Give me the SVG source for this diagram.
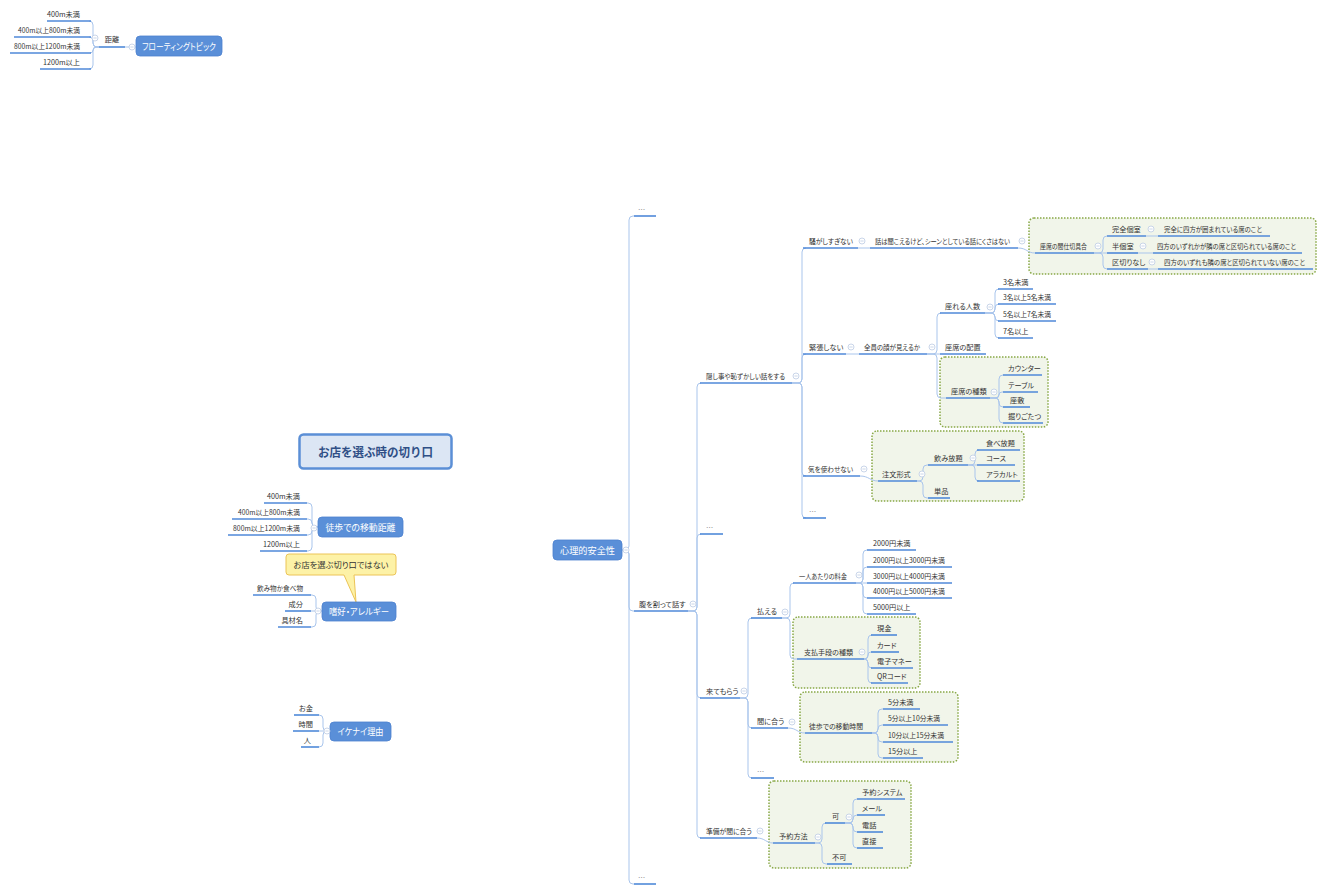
<svg xmlns="http://www.w3.org/2000/svg" width="1326" height="893" viewBox="0 0 1326 893">
<style>
.c{fill:none;stroke:#a9c5ec;stroke-width:1}
.u{stroke:#4f89d9;stroke-width:1.6}
.t{font-family:"Noto Sans CJK JP","Noto Sans",sans-serif;font-size:7.2px;fill:#333;font-feature-settings:"palt"}
.e{text-anchor:end}
.m{text-anchor:middle}
.d{fill:#888}
.b{fill:#5a8fd8;stroke:#4c82cf;stroke-width:0.8}
.bt{font-family:"Noto Sans CJK JP",sans-serif;font-size:9px;fill:#fff;text-anchor:middle;font-feature-settings:"palt"}
.g{fill:#f1f5ea;stroke:#88a846;stroke-width:1.5;stroke-dasharray:1.5 1.5}
</style>
<defs>
<g id="k"><circle r="3" fill="#fff" stroke="#bccbe3" stroke-width="0.8"/><line x1="-1.6" x2="1.6" stroke="#bccbe3" stroke-width="0.8"/></g>
</defs>
<rect width="1326" height="893" fill="#fff"/>

<g id="boundaries">
<rect class="g" x="1029" y="218" width="287" height="56" rx="5"/>
<rect class="g" x="940" y="357" width="108" height="70" rx="5"/>
<rect class="g" x="872" y="431" width="152" height="70" rx="5"/>
<rect class="g" x="793" y="617" width="127" height="71" rx="5"/>
<rect class="g" x="800" y="692" width="158" height="70" rx="5"/>
<rect class="g" x="769" y="781" width="142" height="87" rx="5"/>
</g>

<g id="connectors">
<path class="c" d="M136,47 L125,47"/>
<path class="c" d="M99,47 L97,47 Q93,47 93,43 L93,25 Q93,21 89,21"/>
<path class="c" d="M99,47 L97,47 Q93,47 93,43 L93,41 Q93,37 89,37"/>
<path class="c" d="M99,47 L96,47 Q93,47 93,50 Q93,53 90,53"/>
<path class="c" d="M99,47 L97,47 Q93,47 93,51 L93,65 Q93,69 89,69"/>

<path class="c" d="M318,527 L316,527 Q312,527 312,523 L312,507 Q312,503 308,503 L307,503"/>
<path class="c" d="M318,527 L316,527 Q312,527 312,523 Q312,519 308,519 L307,519"/>
<path class="c" d="M318,527 L316,527 Q312,527 312,531 Q312,535 308,535 L307,535"/>
<path class="c" d="M318,527 L316,527 Q312,527 312,531 L312,547 Q312,551 308,551 L307,551"/>

<path class="c" d="M322,611 L320,611 Q316,611 316,607 L316,599 Q316,595 312,595 L311,595"/>
<path class="c" d="M322,611 L311,611"/>
<path class="c" d="M322,611 L320,611 Q316,611 316,615 L316,623 Q316,627 312,627 L311,627"/>

<path class="c" d="M330,731 L327,731 Q323,731 323,727 L323,719 Q323,715 319,715"/>
<path class="c" d="M330,731 L319,731"/>
<path class="c" d="M330,731 L327,731 Q323,731 323,735 L323,743 Q323,747 319,747"/>

<path class="c" d="M622,550 L625,550 Q629,550 629,546 L629,220 Q629,216 633,216 L634,216"/>
<path class="c" d="M622,550 L625,550 Q629,550 629,554 L629,607 Q629,611 633,611 L634,611"/>
<path class="c" d="M622,550 L625,550 Q629,550 629,554 L629,880 Q629,884 633,884 L634,884"/>

<path class="c" d="M688,611 L693,611 Q697,611 697,607 L697,387 Q697,383 701,383"/>
<path class="c" d="M688,611 L693,611 Q697,611 697,607 L697,538 Q697,534 701,534"/>
<path class="c" d="M688,611 L693,611 Q697,611 697,615 L697,694 Q697,698 701,698"/>
<path class="c" d="M688,611 L693,611 Q697,611 697,615 L697,834 Q697,838 701,838"/>

<path class="c" d="M792,383 L798,383 Q802,383 802,379 L802,252 Q802,248 806,248"/>
<path class="c" d="M792,383 L798,383 Q802,383 802,379 L802,358 Q802,354 806,354"/>
<path class="c" d="M792,383 L798,383 Q802,383 802,387 L802,472 Q802,476 806,476"/>
<path class="c" d="M792,383 L798,383 Q802,383 802,387 L802,514 Q802,518 806,518"/>

<path class="c" d="M858,248 L870,248"/>
<path class="c" d="M1018,248 C1027,248 1027,253 1035,253"/>
<path class="c" d="M1094,253 L1099,253 Q1103,253 1103,249 L1103,240 Q1103,236 1107,236"/>
<path class="c" d="M1094,253 L1107,253"/>
<path class="c" d="M1094,253 L1099,253 Q1103,253 1103,257 L1103,265 Q1103,269 1107,269"/>
<path class="c" d="M1146,236 L1158,236"/>
<path class="c" d="M1138,253 L1153,253"/>
<path class="c" d="M1148,269 L1158,269"/>

<path class="c" d="M846,354 L859,354"/>
<path class="c" d="M927,354 L933,354 Q937,354 937,350 L937,317 Q937,313 941,313"/>
<path class="c" d="M927,354 L940,354"/>
<path class="c" d="M927,354 L933,354 Q937,354 937,358 L937,394 Q937,398 941,398 L946,398"/>
<path class="c" d="M985,313 L991,313 Q995,313 995,309 L995,293 Q995,289 999,289"/>
<path class="c" d="M985,313 L991,313 Q995,313 995,309 L995,308 Q995,304 999,304"/>
<path class="c" d="M985,313 L991,313 Q995,313 995,317 Q995,321 999,321"/>
<path class="c" d="M985,313 L991,313 Q995,313 995,317 L995,334 Q995,338 999,338"/>
<path class="c" d="M990,398 L995,398 Q999,398 999,394 L999,379 Q999,375 1003,375"/>
<path class="c" d="M990,398 L996,398 Q999,398 999,395 Q999,392 1002,392 L1003,392"/>
<path class="c" d="M990,398 L995,398 Q999,398 999,402 L999,403 Q999,407 1003,407"/>
<path class="c" d="M990,398 L995,398 Q999,398 999,402 L999,419 Q999,423 1003,423"/>

<path class="c" d="M860,476 C869,476 870,481 878,481"/>
<path class="c" d="M917,481 L919,481 Q923,481 923,477 L923,469 Q923,465 927,465 L928,465"/>
<path class="c" d="M917,481 L919,481 Q923,481 923,485 L923,494 Q923,498 927,498 L928,498"/>
<path class="c" d="M968,465 L971,465 Q975,465 975,461 L975,454 Q975,450 979,450"/>
<path class="c" d="M968,465 L977,465"/>
<path class="c" d="M968,465 L971,465 Q975,465 975,469 L975,477 Q975,481 979,481"/>

<path class="c" d="M740,698 L744,698 Q748,698 748,694 L748,622 Q748,618 752,618"/>
<path class="c" d="M740,698 L744,698 Q748,698 748,702 L748,724 Q748,728 752,728"/>
<path class="c" d="M740,698 L744,698 Q748,698 748,702 L748,774 Q748,778 752,778"/>
<path class="c" d="M782,618 L786,618 Q790,618 790,614 L790,587 Q790,583 794,583"/>
<path class="c" d="M782,618 L786,618 Q790,618 790,622 L790,655 Q790,659 794,659 L797,659"/>
<path class="c" d="M856,583 L859,583 Q863,583 863,579 L863,554 Q863,550 867,550"/>
<path class="c" d="M856,583 L859,583 Q863,583 863,579 L863,571 Q863,567 867,567"/>
<path class="c" d="M856,583 L867,583"/>
<path class="c" d="M856,583 L859,583 Q863,583 863,587 L863,594 Q863,598 867,598"/>
<path class="c" d="M856,583 L859,583 Q863,583 863,587 L863,610 Q863,614 867,614"/>
<path class="c" d="M864,659 Q868,659 868,655 L868,639 Q868,635 872,635"/>
<path class="c" d="M864,659 Q868,659 868,656 L868,655 Q868,652 871,652"/>
<path class="c" d="M864,659 Q868,659 868,663 L868,664 Q868,668 872,668"/>
<path class="c" d="M864,659 Q868,659 868,663 L868,679 Q868,683 872,683"/>
<path class="c" d="M788,728 C797,728 797,733 805,733"/>
<path class="c" d="M872,733 L874,733 Q878,733 878,729 L878,713 Q878,709 882,709 L883,709"/>
<path class="c" d="M872,733 L874,733 Q878,733 878,729 Q878,725 882,725 L883,725"/>
<path class="c" d="M872,733 L874,733 Q878,733 878,737 L878,738 Q878,742 882,742 L883,742"/>
<path class="c" d="M872,733 L874,733 Q878,733 878,737 L878,754 Q878,758 882,758 L883,758"/>

<path class="c" d="M757,838 C765,838 766,843 773,843"/>
<path class="c" d="M815,843 L818,843 Q822,843 822,839 L822,827 Q822,823 826,823"/>
<path class="c" d="M815,843 L818,843 Q822,843 822,847 L822,860 Q822,864 826,864 L827,864"/>
<path class="c" d="M845,823 L849,823 Q853,823 853,819 L853,803 Q853,799 857,799"/>
<path class="c" d="M845,823 L849,823 Q853,823 853,819 Q853,815 857,815"/>
<path class="c" d="M845,823 L849,823 Q853,823 853,827 L853,828 Q853,832 857,832"/>
<path class="c" d="M845,823 L849,823 Q853,823 853,827 L853,844 Q853,848 857,848"/>
</g>

<!-- floating topic -->
<g id="floating">
<rect class="b" x="136" y="36" width="86" height="20" rx="4"/>
<text class="bt" x="179" y="49.5" textLength="74" lengthAdjust="spacingAndGlyphs">フローティングトピック</text>
<use href="#k" x="132" y="47"/>
</g>
<g id="f-kyori"><text class="t m" x="112" y="42">距離</text><line class="u" x1="99" y1="47" x2="125" y2="47"/><use href="#k" x="95" y="38"/></g>
<g id="f-1"><text class="t e" x="80" y="17">400m未満</text><line class="u" x1="47" y1="21" x2="91" y2="21"/></g>
<g id="f-2"><text class="t e" x="80" y="33" textLength="62" lengthAdjust="spacingAndGlyphs">400m以上800m未満</text><line class="u" x1="14" y1="37" x2="91" y2="37"/></g>
<g id="f-3"><text class="t e" x="80" y="49" textLength="66" lengthAdjust="spacingAndGlyphs">800m以上1200m未満</text><line class="u" x1="10" y1="53" x2="91" y2="53"/></g>
<g id="f-4"><text class="t e" x="80" y="65">1200m以上</text><line class="u" x1="40" y1="69" x2="91" y2="69"/></g>

<!-- central title -->
<g id="title">
<rect x="299.5" y="434.5" width="152" height="34" rx="4" fill="#dce6f4" stroke="#5b8fd6" stroke-width="2.5"/>
<text x="375.5" y="456.5" text-anchor="middle" font-family="'Noto Sans CJK JP',sans-serif" font-size="12.5" font-weight="bold" fill="#2f4f86" textLength="115" lengthAdjust="spacingAndGlyphs">お店を選ぶ時の切り口</text>
</g>

<g id="toho">
<rect class="b" x="318" y="517" width="85" height="20" rx="4"/>
<text class="bt" x="360.5" y="530.5" textLength="70" lengthAdjust="spacingAndGlyphs">徒歩での移動距離</text>
<use href="#k" x="314" y="528"/>
</g>
<g id="t-1"><text class="t e" x="300" y="499">400m未満</text><line class="u" x1="264" y1="503" x2="307" y2="503"/></g>
<g id="t-2"><text class="t e" x="300" y="515" textLength="62" lengthAdjust="spacingAndGlyphs">400m以上800m未満</text><line class="u" x1="232" y1="519" x2="307" y2="519"/></g>
<g id="t-3"><text class="t e" x="300" y="531" textLength="67" lengthAdjust="spacingAndGlyphs">800m以上1200m未満</text><line class="u" x1="228" y1="535" x2="307" y2="535"/></g>
<g id="t-4"><text class="t e" x="300" y="547">1200m以上</text><line class="u" x1="260" y1="551" x2="307" y2="551"/></g>

<g id="callout">
<path d="M289,554 H393 Q396,554 396,557 V572 Q396,575 393,575 H354 L356,602 L344,575 H289 Q286,575 286,572 V557 Q286,554 289,554 Z" fill="#fdf2a7" stroke="#ecc456" stroke-width="1"/>
<text class="t m" x="341" y="567.5" style="font-size:8.5px" textLength="95" lengthAdjust="spacingAndGlyphs">お店を選ぶ切り口ではない</text>
</g>

<g id="shiko">
<rect class="b" x="322" y="602" width="74" height="19" rx="4"/>
<text class="bt" x="359" y="614.5" textLength="60" lengthAdjust="spacingAndGlyphs">嗜好・アレルギー</text>
<use href="#k" x="318" y="611"/>
</g>
<g id="s-1"><text class="t e" x="303" y="591" textLength="46" lengthAdjust="spacingAndGlyphs">飲み物か食べ物</text><line class="u" x1="253" y1="595" x2="311" y2="595"/></g>
<g id="s-2"><text class="t e" x="303" y="607">成分</text><line class="u" x1="285" y1="611" x2="311" y2="611"/></g>
<g id="s-3"><text class="t e" x="303" y="623">具材名</text><line class="u" x1="278" y1="627" x2="311" y2="627"/></g>

<g id="ikenai">
<rect class="b" x="330" y="722" width="61" height="19" rx="4"/>
<text class="bt" x="360.5" y="734.5" textLength="46" lengthAdjust="spacingAndGlyphs">イケナイ理由</text>
<use href="#k" x="327" y="731"/>
</g>
<g id="i-1"><text class="t e" x="313" y="711">お金</text><line class="u" x1="294" y1="715" x2="319" y2="715"/></g>
<g id="i-2"><text class="t e" x="313" y="727">時間</text><line class="u" x1="293" y1="731" x2="319" y2="731"/></g>
<g id="i-3"><text class="t e" x="311" y="743">人</text><line class="u" x1="301" y1="747" x2="319" y2="747"/></g>

<!-- main right tree -->
<g id="shinri">
<rect class="b" x="553" y="540" width="69" height="20" rx="4"/>
<text class="bt" x="587.5" y="553.5" textLength="55" lengthAdjust="spacingAndGlyphs">心理的安全性</text>
<use href="#k" x="626" y="550"/>
</g>
<g id="r-dots1"><text class="t d" x="638" y="212">…</text><line class="u" x1="634" y1="216" x2="656" y2="216"/></g>
<g id="r-hara"><text class="t" x="639" y="607">腹を割って話す</text><line class="u" x1="634" y1="611" x2="688" y2="611"/><use href="#k" x="693" y="604"/></g>
<g id="r-dots2"><text class="t d" x="638" y="880">…</text><line class="u" x1="634" y1="884" x2="656" y2="884"/></g>

<g id="h-kakushi"><text class="t" x="706" y="379" textLength="79" lengthAdjust="spacingAndGlyphs">隠し事や恥ずかしい話をする</text><line class="u" x1="700" y1="383" x2="792" y2="383"/><use href="#k" x="796" y="376"/></g>
<g id="h-dots"><text class="t d" x="706" y="530">…</text><line class="u" x1="700" y1="534" x2="723" y2="534"/></g>
<g id="h-kite"><text class="t" x="706" y="694">来てもらう</text><line class="u" x1="700" y1="698" x2="740" y2="698"/><use href="#k" x="744" y="691"/></g>
<g id="h-junbi"><text class="t" x="706" y="834" textLength="46" lengthAdjust="spacingAndGlyphs">準備が間に合う</text><line class="u" x1="700" y1="838" x2="757" y2="838"/><use href="#k" x="760" y="831"/></g>

<g id="k-sawa"><text class="t" x="809" y="244" textLength="44" lengthAdjust="spacingAndGlyphs">騒がしすぎない</text><line class="u" x1="803" y1="248" x2="858" y2="248"/><use href="#k" x="862" y="241"/></g>
<g id="k-kincho"><text class="t" x="809" y="350">緊張しない</text><line class="u" x1="803" y1="354" x2="846" y2="354"/><use href="#k" x="851" y="347"/></g>
<g id="k-ki"><text class="t" x="808" y="472" textLength="45" lengthAdjust="spacingAndGlyphs">気を使わせない</text><line class="u" x1="803" y1="476" x2="860" y2="476"/><use href="#k" x="864" y="469"/></g>
<g id="k-dots"><text class="t d" x="809" y="514">…</text><line class="u" x1="803" y1="518" x2="826" y2="518"/></g>

<g id="sa-hanashi"><text class="t" x="875" y="244" textLength="135" lengthAdjust="spacingAndGlyphs">話は聞こえるけど、シーンとしている話にくさはない</text><line class="u" x1="870" y1="248" x2="1018" y2="248"/><use href="#k" x="1022" y="241"/></g>
<g id="sa-majikiri"><text class="t" x="1040" y="249" textLength="47" lengthAdjust="spacingAndGlyphs">座席の間仕切具合</text><line class="u" x1="1035" y1="253" x2="1094" y2="253"/><use href="#k" x="1098" y="246"/></g>
<g id="sa-kanzen"><text class="t" x="1112" y="232">完全個室</text><line class="u" x1="1107" y1="236" x2="1146" y2="236"/><use href="#k" x="1151" y="229"/></g>
<g id="sa-kanzen-d"><text class="t" x="1164" y="232" textLength="98" lengthAdjust="spacingAndGlyphs">完全に四方が囲まれている席のこと</text><line class="u" x1="1158" y1="236" x2="1270" y2="236"/></g>
<g id="sa-han"><text class="t" x="1112" y="249">半個室</text><line class="u" x1="1107" y1="253" x2="1138" y2="253"/><use href="#k" x="1143" y="246"/></g>
<g id="sa-han-d"><text class="t" x="1157" y="249" textLength="139" lengthAdjust="spacingAndGlyphs">四方のいずれかが隣の席と区切られている席のこと</text><line class="u" x1="1153" y1="253" x2="1302" y2="253"/></g>
<g id="sa-nashi"><text class="t" x="1112" y="265">区切りなし</text><line class="u" x1="1107" y1="269" x2="1148" y2="269"/><use href="#k" x="1152" y="262"/></g>
<g id="sa-nashi-d"><text class="t" x="1164" y="265" textLength="141" lengthAdjust="spacingAndGlyphs">四方のいずれも隣の席と区切られていない席のこと</text><line class="u" x1="1158" y1="269" x2="1313" y2="269"/></g>

<g id="ki-kao"><text class="t" x="864" y="350" textLength="56" lengthAdjust="spacingAndGlyphs">全員の顔が見えるか</text><line class="u" x1="859" y1="354" x2="927" y2="354"/><use href="#k" x="932" y="347"/></g>
<g id="ki-ninzu"><text class="t" x="945" y="309">座れる人数</text><line class="u" x1="940" y1="313" x2="985" y2="313"/><use href="#k" x="990" y="307"/></g>
<g id="nz-1"><text class="t" x="1003" y="285">3名未満</text><line class="u" x1="998" y1="289" x2="1033" y2="289"/></g>
<g id="nz-2"><text class="t" x="1003" y="300" textLength="48" lengthAdjust="spacingAndGlyphs">3名以上5名未満</text><line class="u" x1="998" y1="304" x2="1056" y2="304"/></g>
<g id="nz-3"><text class="t" x="1003" y="317" textLength="48" lengthAdjust="spacingAndGlyphs">5名以上7名未満</text><line class="u" x1="998" y1="321" x2="1056" y2="321"/></g>
<g id="nz-4"><text class="t" x="1003" y="334">7名以上</text><line class="u" x1="998" y1="338" x2="1033" y2="338"/></g>
<g id="ki-haichi"><text class="t" x="945" y="350">座席の配置</text><line class="u" x1="940" y1="354" x2="986" y2="354"/></g>
<g id="ki-shurui"><text class="t" x="951" y="394">座席の種類</text><line class="u" x1="946" y1="398" x2="990" y2="398"/><use href="#k" x="994" y="392"/></g>
<g id="sh-1"><text class="t" x="1008" y="371">カウンター</text><line class="u" x1="1003" y1="375" x2="1042" y2="375"/></g>
<g id="sh-2"><text class="t" x="1008" y="388">テーブル</text><line class="u" x1="1003" y1="392" x2="1038" y2="392"/></g>
<g id="sh-3"><text class="t" x="1010" y="403">座敷</text><line class="u" x1="1003" y1="407" x2="1030" y2="407"/></g>
<g id="sh-4"><text class="t" x="1008" y="419">掘りごたつ</text><line class="u" x1="1003" y1="423" x2="1043" y2="423"/></g>

<g id="ch-keishiki"><text class="t" x="882" y="477">注文形式</text><line class="u" x1="878" y1="481" x2="917" y2="481"/><use href="#k" x="922" y="474"/></g>
<g id="ch-nomi"><text class="t" x="934" y="461">飲み放題</text><line class="u" x1="928" y1="465" x2="968" y2="465"/><use href="#k" x="973" y="458"/></g>
<g id="nm-1"><text class="t" x="986" y="446">食べ放題</text><line class="u" x1="977" y1="450" x2="1020" y2="450"/></g>
<g id="nm-2"><text class="t" x="986" y="461">コース</text><line class="u" x1="977" y1="465" x2="1015" y2="465"/></g>
<g id="nm-3"><text class="t" x="986" y="477">アラカルト</text><line class="u" x1="977" y1="481" x2="1020" y2="481"/></g>
<g id="ch-tanpin"><text class="t" x="934" y="494">単品</text><line class="u" x1="928" y1="498" x2="950" y2="498"/></g>

<g id="kt-haraeru"><text class="t" x="757" y="614">払える</text><line class="u" x1="751" y1="618" x2="782" y2="618"/><use href="#k" x="785" y="612"/></g>
<g id="hr-ryokin"><text class="t" x="799" y="579" textLength="48" lengthAdjust="spacingAndGlyphs">一人あたりの料金</text><line class="u" x1="793" y1="583" x2="856" y2="583"/><use href="#k" x="859" y="575"/></g>
<g id="ry-1"><text class="t" x="873" y="546">2000円未満</text><line class="u" x1="867" y1="550" x2="916" y2="550"/></g>
<g id="ry-2"><text class="t" x="873" y="563" textLength="72" lengthAdjust="spacingAndGlyphs">2000円以上3000円未満</text><line class="u" x1="867" y1="567" x2="952" y2="567"/></g>
<g id="ry-3"><text class="t" x="873" y="579" textLength="72" lengthAdjust="spacingAndGlyphs">3000円以上4000円未満</text><line class="u" x1="867" y1="583" x2="952" y2="583"/></g>
<g id="ry-4"><text class="t" x="873" y="594" textLength="72" lengthAdjust="spacingAndGlyphs">4000円以上5000円未満</text><line class="u" x1="867" y1="598" x2="952" y2="598"/></g>
<g id="ry-5"><text class="t" x="873" y="610">5000円以上</text><line class="u" x1="867" y1="614" x2="916" y2="614"/></g>
<g id="hr-shudan"><text class="t" x="804" y="655" textLength="49" lengthAdjust="spacingAndGlyphs">支払手段の種類</text><line class="u" x1="797" y1="659" x2="864" y2="659"/><use href="#k" x="862" y="652"/></g>
<g id="sd-1"><text class="t" x="877" y="631">現金</text><line class="u" x1="871" y1="635" x2="897" y2="635"/></g>
<g id="sd-2"><text class="t" x="877" y="648">カード</text><line class="u" x1="871" y1="652" x2="899" y2="652"/></g>
<g id="sd-3"><text class="t" x="877" y="664">電子マネー</text><line class="u" x1="871" y1="668" x2="913" y2="668"/></g>
<g id="sd-4"><text class="t" x="877" y="679">QRコード</text><line class="u" x1="871" y1="683" x2="908" y2="683"/></g>

<g id="kt-maniau"><text class="t" x="757" y="724">間に合う</text><line class="u" x1="751" y1="728" x2="788" y2="728"/><use href="#k" x="792" y="722"/></g>
<g id="ma-jikan"><text class="t" x="809" y="729" textLength="54" lengthAdjust="spacingAndGlyphs">徒歩での移動時間</text><line class="u" x1="805" y1="733" x2="872" y2="733"/></g>
<g id="jk-1"><text class="t" x="888" y="705">5分未満</text><line class="u" x1="883" y1="709" x2="920" y2="709"/></g>
<g id="jk-2"><text class="t" x="888" y="721" textLength="52" lengthAdjust="spacingAndGlyphs">5分以上10分未満</text><line class="u" x1="883" y1="725" x2="948" y2="725"/></g>
<g id="jk-3"><text class="t" x="888" y="738" textLength="56" lengthAdjust="spacingAndGlyphs">10分以上15分未満</text><line class="u" x1="883" y1="742" x2="953" y2="742"/></g>
<g id="jk-4"><text class="t" x="888" y="754">15分以上</text><line class="u" x1="883" y1="758" x2="923" y2="758"/></g>
<g id="kt-dots"><text class="t d" x="757" y="774">…</text><line class="u" x1="751" y1="778" x2="774" y2="778"/></g>

<g id="jb-hoho"><text class="t" x="779" y="839">予約方法</text><line class="u" x1="773" y1="843" x2="815" y2="843"/><use href="#k" x="818" y="837"/></g>
<g id="hh-ka"><text class="t" x="832" y="819">可</text><line class="u" x1="825" y1="823" x2="845" y2="823"/><use href="#k" x="849" y="817"/></g>
<g id="hh-fuka"><text class="t" x="832" y="860">不可</text><line class="u" x1="827" y1="864" x2="852" y2="864"/></g>
<g id="ka-1"><text class="t" x="862" y="795">予約システム</text><line class="u" x1="857" y1="799" x2="905" y2="799"/></g>
<g id="ka-2"><text class="t" x="862" y="811">メール</text><line class="u" x1="857" y1="815" x2="885" y2="815"/></g>
<g id="ka-3"><text class="t" x="862" y="828">電話</text><line class="u" x1="857" y1="832" x2="883" y2="832"/></g>
<g id="ka-4"><text class="t" x="862" y="844">直接</text><line class="u" x1="857" y1="848" x2="883" y2="848"/></g>
</svg>
